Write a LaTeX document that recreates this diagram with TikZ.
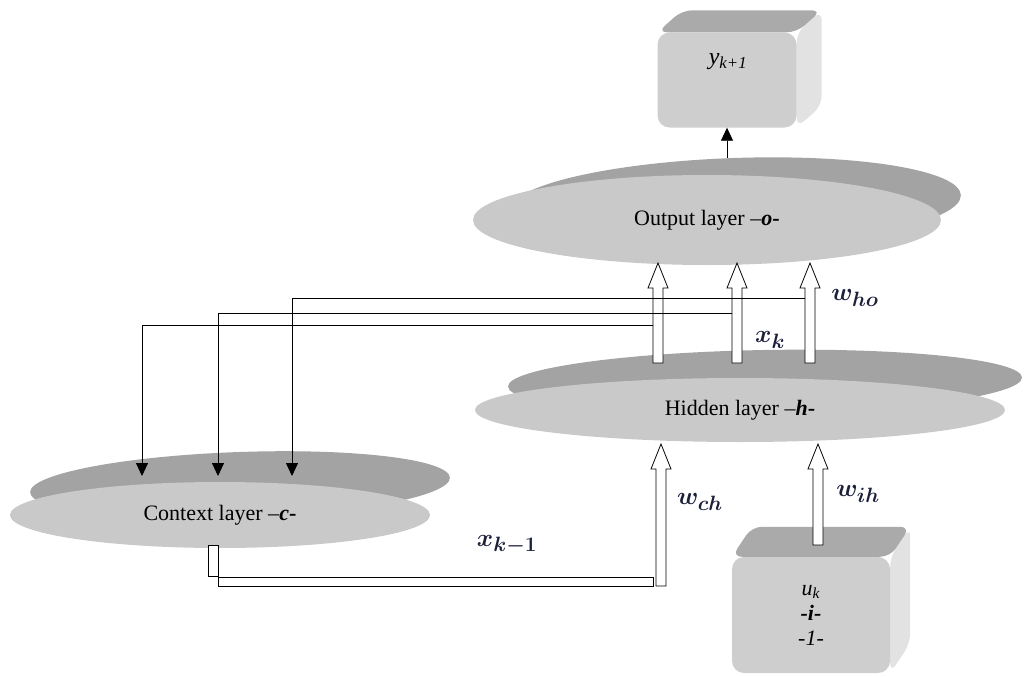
\documentclass[tikz,border=0pt]{standalone}
\usepackage{fontspec}
\setmainfont{Liberation Serif}
\usetikzlibrary{arrows.meta, calc, shapes.geometric}

\definecolor{laylight}{RGB}{201,201,201}
\definecolor{laydark}{RGB}{163,163,163}
\definecolor{boxfront}{RGB}{206,206,206}
\definecolor{boxtop}{RGB}{170,170,170}
\definecolor{boxside}{RGB}{226,226,226}
\definecolor{lblcol}{RGB}{28,32,58}

\pgfdeclarelayer{back}
\pgfsetlayers{back,main}

% hollow upward arrow from #1 (foot) to #2 (tip)
\newcommand{\hollowarrow}[2]{%
  \draw[hollow] ($(#1)+(-5,0)$) -- ($(#2)+(-5,25)$) -- ($(#2)+(-10,25)$) -- (#2)
    -- ($(#2)+(10,25)$) -- ($(#2)+(5,25)$) -- ($(#1)+(5,0)$) -- cycle;}

\begin{document}
\begin{tikzpicture}[x=1pt, y=-1pt,
  layer/.style={ellipse, fill=laylight, inner sep=0pt,
                font=\fontsize{22}{26}\selectfont},
  laytop/.style={ellipse, fill=laydark, inner sep=0pt},
  cube/.style={rectangle, rounded corners=12pt, fill=boxfront, inner sep=0pt,
               align=center, font=\fontsize{22}{25}\selectfont},
  boxtxt/.style={inner sep=0pt, font=\fontsize{24}{28}\selectfont},
  arr/.style={-{Triangle[length=13pt, width=12pt]}, line width=0.8pt},
  hollow/.style={draw, fill=white, line width=0.8pt},
  pipe/.style={draw, fill=white, line width=0.8pt},
  wlab/.style={font=\fontsize{28}{32}\selectfont\boldmath, text=lblcol}
]
\useasboundingbox (0,0) rectangle (1026,677);

% layers
\node[laytop, minimum width=452pt, minimum height=90pt, rotate=2] (outtop) at (735,203) {};
\node[layer, minimum width=468pt, minimum height=90pt] (out) at (707,220) {Output layer –\textbf{\textit{o}-}};
\node[laytop, minimum width=514pt, minimum height=64pt, rotate=1] (hidtop) at (765,382) {};
\node[layer, minimum width=530pt, minimum height=64pt] (hid) at (740,410) {Hidden layer –\textbf{\textit{h}-}};
\node[laytop, minimum width=420pt, minimum height=66pt, rotate=2] (ctxtop) at (240,485) {};
\node[layer, minimum width=420pt, minimum height=66pt] (ctx) at (220,515) {Context layer –\textbf{\textit{c}-}};

% boxes
\node[cube, minimum width=139pt, minimum height=95pt] (ybox) at (727,80) {};
\node[boxtxt] (ytxt) at (728,62) {\textit{y}\textsubscript{\textit{k+1}}};
\node[cube, minimum width=158pt, minimum height=116pt] (ubox) at (811,615)
  {\textit{u}\textsubscript{\textit{k}}\\\textbf{\textit{-i-}}\\\textit{-1-}};
\begin{pgfonlayer}{back}
  \fill[boxside, rounded corners=10pt] (ybox.north east) -- ++(25,-22)
    -- ($(ybox.south east)+(25,-22)$) -- (ybox.south east) -- cycle;
  \fill[boxtop, rounded corners=10pt] (ybox.north west) -- ++(25,-22)
    -- ($(ybox.north east)+(25,-22)$) -- (ybox.north east) -- cycle;
  \fill[boxside, rounded corners=10pt] (ubox.north east) -- ++(20,-30)
    -- ($(ubox.south east)+(20,-30)$) -- (ubox.south east) -- cycle;
  \fill[boxtop, rounded corners=10pt] (ubox.north west) -- ++(20,-30)
    -- ($(ubox.north east)+(20,-30)$) -- (ubox.north east) -- cycle;
\end{pgfonlayer}

\draw[arr] (ybox.south |- outtop.north) -- (ybox.south);

% weights hidden -> output
\coordinate (h1) at (658,363);
\coordinate (h2) at (737,363);
\coordinate (h3) at (810,363);
\coordinate (o1) at (658,263);
\coordinate (o2) at (737,263);
\coordinate (o3) at (810,263);
\hollowarrow{h1}{o1}
\hollowarrow{h2}{o2}
\hollowarrow{h3}{o3}

% copies to context layer
\coordinate (f1) at (653,325);
\coordinate (f2) at (732,313);
\coordinate (f3) at (805,298);
\coordinate (c1) at (142,476);
\coordinate (c2) at (218,476);
\coordinate (c3) at (292,476);
\draw[arr] (f1) -| (c1);
\draw[arr] (f2) -| (c2);
\draw[arr] (f3) -| (c3);

% context -> hidden
\coordinate (xin) at (213,545);
\coordinate (wch) at (661,586);
\coordinate (chtip) at (661,444);
\draw[pipe] ($(xin)+(-5,0)$) rectangle ($(xin)+(5,31)$);
\draw[pipe] ($(xin)+(5,32)$) rectangle ($(wch)+(-8,0)$);
\hollowarrow{wch}{chtip}

% input -> hidden
\coordinate (ui) at (818,545);
\coordinate (ihtip) at (818,444);
\hollowarrow{ui}{ihtip}

% labels
\node[wlab] (lwho) at (855,298) {$w_{ho}$};
\node[wlab] (lxk) at (770,340) {$x_k$};
\node[wlab] (lwch) at (700,502) {$w_{ch}$};
\node[wlab] (lwih) at (858,494) {$w_{ih}$};
\node[wlab] (lxk1) at (507,545) {$x_{k-1}$};
\end{tikzpicture}
\end{document}
